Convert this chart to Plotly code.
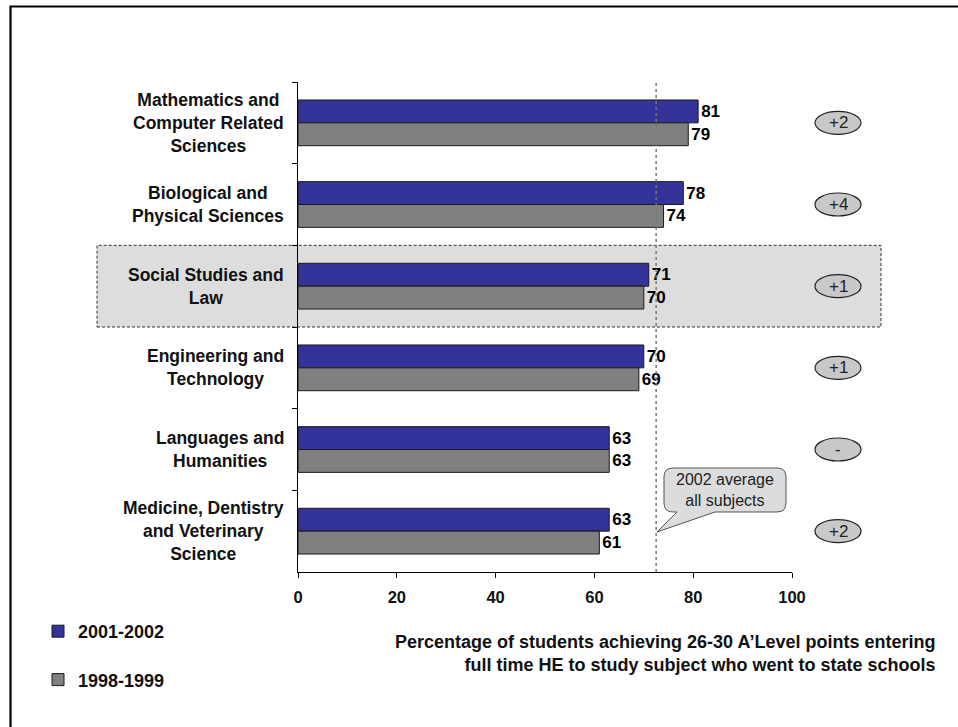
import plotly.graph_objects as go

# ---------------- data ----------------
categories = [
    "Mathematics and<br>Computer Related<br>Sciences",
    "Biological and<br>Physical Sciences",
    "Social Studies and<br>Law",
    "Engineering and<br>Technology",
    "Languages and<br>Humanities",
    "Medicine, Dentistry<br>and Veterinary<br>Science",
]
values_2002 = [81, 78, 71, 70, 63, 63]
values_1999 = [79, 74, 70, 69, 63, 61]
changes = ["+2", "+4", "+1", "+1", "-", "+2"]
series_names = ["2001-2002", "1998-1999"]
average_2002 = 72.5
highlight_index = 2
x_ticks = [0, 20, 40, 60, 80, 100]
axis_title = ("Percentage of students achieving 26-30 A\u2019Level points entering<br>"
              "full time HE to study subject who went to state schools")
callout_text = "2002 average<br>all subjects"

# ---------------- layout geometry (pixels) ----------------
W, H = 958, 727
PL, PR, PT, PB = 298, 792, 82, 572


def X(px):
    return (px - PL) / (PR - PL)


def Y(py):
    return (PB - py) / (PB - PT)


FONT = "Liberation Sans, Arial, Helvetica, sans-serif"
BLUE = "#333399"
GREY = "#808080"

fig = go.Figure()
for name, vals, col in [(series_names[0], values_2002, BLUE), (series_names[1], values_1999, GREY)]:
    fig.add_trace(go.Bar(
        y=categories, x=vals, name=name, orientation="h",
        marker=dict(color=col, line=dict(color="#1a1a1a", width=1)),
        text=vals, textposition="outside", cliponaxis=False, constraintext="none",
        textfont=dict(family=FONT, size=17, color="black", weight="bold"),
        legendgroup=name,
    ))

shapes = []
annotations = []

# outer frame
shapes.append(dict(type="rect", xref="paper", yref="paper",
                   x0=X(10.5), x1=X(975), y0=Y(6.5), y1=Y(745),
                   line=dict(color="black", width=2.2), fillcolor="rgba(0,0,0,0)", layer="below"))

# highlighted row box
n = len(categories)
shapes.append(dict(type="rect", xref="paper", yref="paper",
                   x0=X(97), x1=X(881),
                   y0=1 - (highlight_index + 1) / n, y1=1 - highlight_index / n,
                   line=dict(color="#333333", width=1, dash="3px,2px"),
                   fillcolor="#dddddd", layer="below"))

# average line
shapes.append(dict(type="line", xref="x", yref="paper", x0=average_2002, x1=average_2002,
                   y0=0, y1=1, line=dict(color="#777777", width=1.5, dash="3px,3px"), layer="above"))

# callout bubble
r = 9
x0, x1, y0, y1 = 664, 786, 468, 512


def P(px, py):
    return f"{X(px):.5f},{Y(py):.5f}"


path = (f"M{P(x0 + r, y0)} L{P(x1 - r, y0)} Q{P(x1, y0)} {P(x1, y0 + r)} "
        f"L{P(x1, y1 - r)} Q{P(x1, y1)} {P(x1 - r, y1)} "
        f"L{P(715, y1)} L{P(657, 532)} L{P(677, y1)} "
        f"L{P(x0 + r, y1)} Q{P(x0, y1)} {P(x0, y1 - r)} "
        f"L{P(x0, y0 + r)} Q{P(x0, y0)} {P(x0 + r, y0)} Z")
shapes.append(dict(type="path", xref="paper", yref="paper", path=path,
                   line=dict(color="#555555", width=1), fillcolor="#dcdcdc", layer="above"))
annotations.append(dict(xref="paper", yref="paper", x=X(725), y=Y(490), text=callout_text,
                        showarrow=False, align="center", xanchor="center", yanchor="middle",
                        font=dict(family=FONT, size=16, color="#222222")))

# change ellipses
for i, ch in enumerate(changes):
    yc = 1 - (i + 0.5) / n
    shapes.append(dict(type="circle", xref="paper", yref="paper",
                       xsizemode="pixel", ysizemode="pixel",
                       xanchor=X(838), yanchor=yc, x0=-23, x1=23, y0=-11.5, y1=11.5,
                       line=dict(color="#222222", width=1.2), fillcolor="#c8c8c8", layer="above"))
    annotations.append(dict(xref="paper", yref="y", x=X(838), y=categories[i], text=ch,
                            showarrow=False, xanchor="center", yanchor="middle",
                            font=dict(family=FONT, size=17, color="#222222")))

# category labels (centred multi-line)
for c in categories:
    annotations.append(dict(xref="paper", yref="y", x=X(286), y=c, text=c, showarrow=False,
                            xanchor="right", yanchor="middle", align="center",
                            font=dict(family=FONT, size=17.5, color="#111111", weight="bold")))

# axis title
annotations.append(dict(xref="paper", yref="paper", x=X(937), y=Y(653), text=axis_title,
                        showarrow=False, xanchor="right", yanchor="middle", align="right",
                        font=dict(family=FONT, size=18, color="#111111", weight="bold")))

fig.update_layout(
    width=W, height=H,
    margin=dict(l=PL, r=W - PR, t=PT, b=H - PB, pad=0),
    paper_bgcolor="white", plot_bgcolor="rgba(0,0,0,0)",
    barmode="group", bargap=0.44, bargroupgap=0,
    font=dict(family=FONT, color="#111111"),
    shapes=shapes, annotations=annotations,
    showlegend=True,
    legend=dict(x=X(38), y=Y(613), xanchor="left", yanchor="top",
                traceorder="grouped", tracegroupgap=22, bgcolor="rgba(0,0,0,0)",
                font=dict(family=FONT, size=18, color="#111111", weight="bold")),
    xaxis=dict(range=[0, 100], tickvals=x_ticks, showgrid=False, zeroline=False,
               showline=True, linecolor="black", linewidth=1, ticks="outside", ticklen=5,
               tickcolor="black", ticklabelstandoff=5,
               tickfont=dict(family=FONT, size=16.5, color="#111111", weight="bold"),
               fixedrange=True),
    yaxis=dict(autorange="reversed", showgrid=False, zeroline=False, showticklabels=False,
               showline=True, linecolor="black", linewidth=1, ticks="outside", ticklen=5,
               tickcolor="black", tickson="boundaries", fixedrange=True),
)

fig.write_html("out.html", config={"displayModeBar": False},
               post_script="document.body.style.margin='0';")
